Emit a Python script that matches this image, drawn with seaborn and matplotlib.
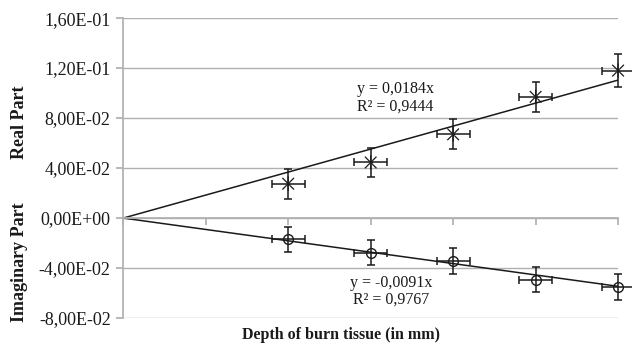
import numpy as np
import matplotlib
matplotlib.use('Agg')
import matplotlib.pyplot as plt
import seaborn as sns
from matplotlib.path import Path
from matplotlib.ticker import FuncFormatter, MultipleLocator

# ── Data ──────────────────────────────────────────────────────────────────────
depth      = [2, 3, 4, 5, 6]
real_part  = [0.0275, 0.0445, 0.0670, 0.0970, 0.1180]
real_yerr  = [0.0120, 0.0118, 0.0120, 0.0118, 0.0130]
imag_part  = [-0.0168, -0.0278, -0.0345, -0.0495, -0.0552]
imag_yerr  = [0.0100, 0.0100, 0.0103, 0.0100, 0.0104]
depth_xerr = [0.2, 0.2, 0.2, 0.2, 0.2]

real_slope, real_r2 = 0.0184, 0.9444
imag_slope, imag_r2 = -0.0091, 0.9767
fit_x = [0, 6]

# ── Style ─────────────────────────────────────────────────────────────────────
sns.set_theme(style='white')
plt.rcParams['font.family'] = ['Liberation Serif', 'DejaVu Serif']

GRID = '#b0b0b0'
INK = '#1a1a1a'

# Excel-like "star" marker: X plus vertical stroke
star = Path([(-1, -1), (1, 1), (-1, 1), (1, -1), (0, -1.25), (0, 1.25)],
            [Path.MOVETO, Path.LINETO, Path.MOVETO, Path.LINETO, Path.MOVETO, Path.LINETO])

fig = plt.figure(figsize=(6.32, 3.48), dpi=100)
ax = fig.add_axes([0.195, 0.086, 0.783, 0.862])

# trendlines
sns.lineplot(x=fit_x, y=[real_slope * v for v in fit_x], color=INK, lw=1.1, ax=ax)
sns.lineplot(x=fit_x, y=[imag_slope * v for v in fit_x], color=INK, lw=1.1, ax=ax)

# error bars
for yv, ye in [(real_part, real_yerr), (imag_part, imag_yerr)]:
    eb = ax.errorbar(depth, yv, yerr=ye, xerr=depth_xerr, fmt='none',
                     ecolor=INK, elinewidth=1.1, capsize=3, capthick=1.1)
    for art in eb.get_children():
        art.set_clip_on(False)

# markers
sns.scatterplot(x=depth, y=real_part, marker=star, s=110, color='none',
                edgecolor=INK, linewidth=0.9, ax=ax, clip_on=False)
sns.scatterplot(x=depth, y=real_part, s=6, color=INK, ax=ax, clip_on=False)
ax.plot(depth, imag_part, 'o', ms=7, mfc='none', mec=INK, mew=1.0, clip_on=False)

# axes
ax.set_xlim(0, 6)
ax.set_ylim(-0.08, 0.16)
ax.yaxis.set_major_locator(MultipleLocator(0.04))
ax.yaxis.set_major_formatter(FuncFormatter(lambda v, p: f'{v:.2E}'.replace('.', ',')))
ax.xaxis.set_major_locator(MultipleLocator(1))
ax.set_xticklabels([])
ax.grid(axis='y', color=GRID, lw=1.0)
ax.spines['top'].set_visible(False)
ax.spines['right'].set_visible(False)
ax.spines['left'].set_color(GRID)
ax.spines['bottom'].set_color(GRID)
ax.spines['bottom'].set_position(('data', 0))
ax.tick_params(axis='y', direction='out', length=5, color=GRID, left=True,
               labelsize=13, labelcolor=INK, pad=4)
ax.tick_params(axis='x', direction='out', length=5, color=GRID, bottom=True)
ax.set_xlabel('')
ax.set_ylabel('')

# equation labels
ax.text(3.3, 0.1035, f'y = {real_slope:.4f}x'.replace('.', ','), ha='center',
        va='center', fontsize=11.5, color=INK)
ax.text(3.3, 0.0890, f'R² = {real_r2:.4f}'.replace('.', ','), ha='center',
        va='center', fontsize=11.5, color=INK)
ax.text(3.25, -0.0520, f'y = {imag_slope:.4f}x'.replace('.', ','), ha='center',
        va='center', fontsize=11.5, color=INK)
ax.text(3.25, -0.0655, f'R² = {imag_r2:.4f}'.replace('.', ','), ha='center',
        va='center', fontsize=11.5, color=INK)

# axis titles
fig.text(341 / 632, 1 - 335 / 348, 'Depth of burn tissue (in mm)', ha='center',
         va='center', fontsize=11.5, fontweight='bold', color=INK)
fig.text(20 / 632, 1 - 122 / 348, 'Real Part', rotation=90, ha='center',
         va='center', fontsize=13, fontweight='bold', color=INK)
fig.text(20 / 632, 1 - 262 / 348, 'Imaginary Part', rotation=90, ha='center',
         va='center', fontsize=13, fontweight='bold', color=INK)

fig.savefig('out.png', dpi=100)
